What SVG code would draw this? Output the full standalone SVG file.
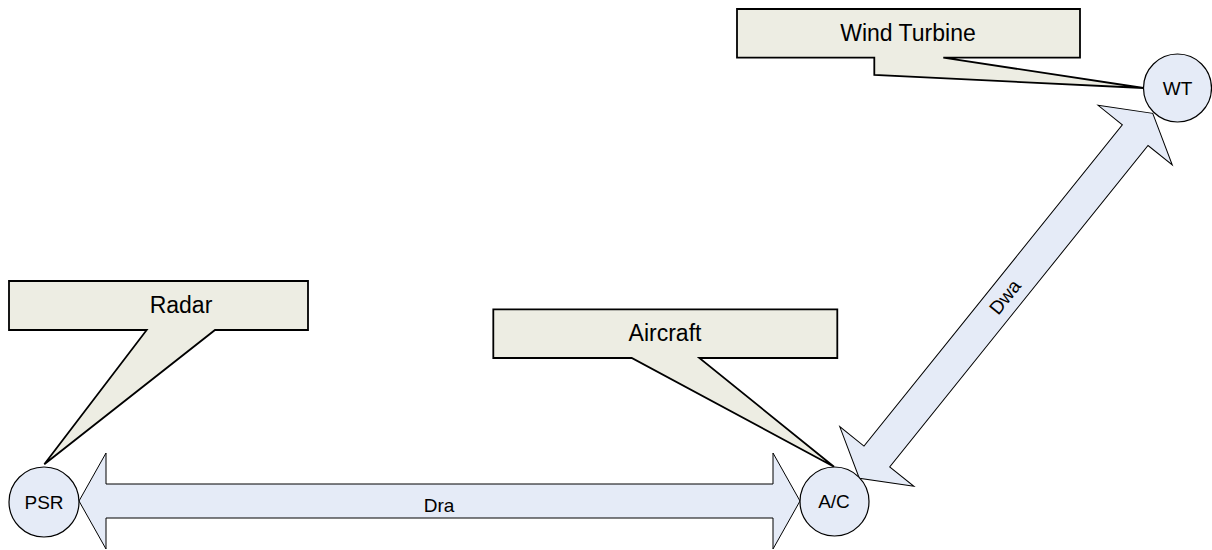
<svg xmlns="http://www.w3.org/2000/svg" width="1212" height="550" viewBox="0 0 1212 550">
<style>
.arrow{fill:#E5EBF7;stroke:#000;stroke-width:1}
.node{fill:#E5EBF7;stroke:#000;stroke-width:1.2}
.callout{fill:#EDEDE3;stroke:#000;stroke-width:1.8;stroke-linejoin:miter}
text{font-family:"Liberation Sans",Arial,sans-serif;fill:#000;text-anchor:middle;dominant-baseline:central}
.big{font-size:23px}
.small{font-size:19px}
.lbl{font-size:19px}
</style>
<rect width="1212" height="550" fill="#fff"/>
<g id="connectors">
  <g id="dra">
    <polygon class="arrow" points="79,501 106,453 106,484 773,484 773,453 800,501 773,549 773,518 106,518 106,549"/>
    <text class="lbl" x="439" y="505">Dra</text>
  </g>
  <g id="dwa">
    <polygon class="arrow" transform="translate(859.3,478.3) rotate(-51.2)" points="0,0 28,-47.6 28,-16.5 440.3,-16.5 440.3,-47.6 468.3,0 440.3,47.6 440.3,16.5 28,16.5 28,47.6"/>
    <text class="lbl" transform="translate(1005,297) rotate(-51.2)" x="0" y="0">Dwa</text>
  </g>
</g>
<g id="callout-radar">
  <path class="callout" d="M9,281 H308 V330 H215 L44.3,464.3 L146.7,330 H9 Z"/>
  <text class="big" x="181" y="305">Radar</text>
</g>
<g id="callout-aircraft">
  <path class="callout" d="M493.3,309.3 H837.3 V358 H699.3 L834,466.7 L631.7,358 H493.3 Z"/>
  <text class="big" x="665" y="333">Aircraft</text>
</g>
<g id="callout-wind">
  <path class="callout" d="M737,9 H1080 V57.7 H943.3 L1143.5,88 L874.3,75 V57.7 H737 Z"/>
  <text class="big" x="908" y="33">Wind Turbine</text>
</g>
<g id="node-psr">
  <circle class="node" cx="44" cy="502" r="35"/>
  <text class="small" x="44" y="502">PSR</text>
</g>
<g id="node-ac">
  <circle class="node" cx="834.5" cy="501.5" r="34.5"/>
  <text class="small" x="834" y="501.5">A/C</text>
</g>
<g id="node-wt">
  <circle class="node" cx="1177.5" cy="88" r="34"/>
  <text class="small" x="1177.5" y="88">WT</text>
</g>
</svg>
